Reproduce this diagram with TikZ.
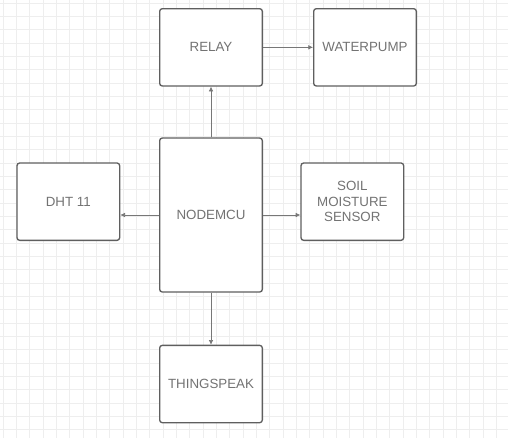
\documentclass[tikz,border=0pt]{standalone}
\usepackage{fontspec}
\setmainfont{Liberation Sans}
\usetikzlibrary{arrows.meta,positioning}
\definecolor{GridLine}{RGB}{238,238,238}
\definecolor{BoxLine}{RGB}{95,95,95}
\definecolor{BoxText}{RGB}{115,115,115}

\begin{document}
\begin{tikzpicture}[
    box/.style={draw=BoxLine, line width=1pt, rounded corners=2pt, fill=white,
                minimum width=77pt, minimum height=58pt, align=center,
                text=BoxText, font=\fontsize{10}{11.5}\selectfont, inner sep=2pt},
    arr/.style={-{Latex[length=3.5pt,width=3.5pt]}, draw=BoxLine!85, line width=0.5pt},
    node distance=38pt
]
    \useasboundingbox (0,0) rectangle (381pt,-327.75pt);
    % background grid
    \draw[GridLine, line width=0.6pt, shift={(2.25pt,-2.25pt)}, step=10pt]
        (-2.25pt,2.25pt) grid (380pt,-327pt);

    \node[box, minimum height=115.5pt] (nodemcu) at (158.25pt,-161.25pt) {NODEMCU};
    \node[box, above=38pt of nodemcu] (relay) {RELAY};
    \node[box, right=37.5pt of relay] (pump) {WATERPUMP};
    \node[box, left=29pt of nodemcu, yshift=10pt] (dht) {DHT 11};
    \node[box, right=28pt of nodemcu, yshift=10pt] (soil) {SOIL\\MOISTURE\\SENSOR};
    \node[box, below=39pt of nodemcu] (thing) {THINGSPEAK};

    \draw[arr] (nodemcu) -- (relay);
    \draw[arr] (relay) -- (pump);
    \draw[arr] (nodemcu.west) -- (nodemcu.west -| dht.east);
    \draw[arr] (nodemcu.east) -- (nodemcu.east -| soil.west);
    \draw[arr] (nodemcu) -- (thing);
\end{tikzpicture}
\end{document}
